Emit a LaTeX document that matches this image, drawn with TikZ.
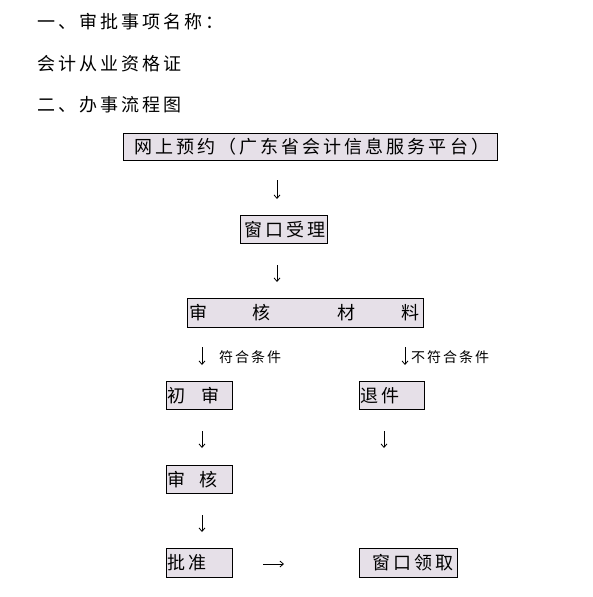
\documentclass[tikz,border=0pt]{standalone}
\usepackage{fontspec}
\newfontfamily\cjk[LetterSpace=17]{Noto Sans CJK SC}
\newfontfamily\cjkplain{Noto Sans CJK SC}
\newfontfamily\cjksmall[LetterSpace=14]{Noto Sans CJK SC}
\usetikzlibrary{arrows.meta}
\definecolor{boxfill}{HTML}{E6E0E8}
\begin{document}
\begin{tikzpicture}[x=1pt,y=-1pt,
  every node/.style={inner sep=0pt, font=\cjk\fontsize{18}{18}\selectfont},
  txt/.style={anchor=west},
  plain/.style={font=\cjkplain\fontsize{18}{18}\selectfont},
  small/.style={anchor=west, font=\cjksmall\fontsize{14}{14}\selectfont},
  bx/.style={draw=black, line width=1.2pt, fill=boxfill, anchor=north west},
  arr/.style={line width=0.8pt, -{Straight Barb[length=3.5pt,width=6pt]}}]
\useasboundingbox (0,0) rectangle (593,597);

\node[txt] (t1) at (37,22) {一、审批事项名称：};
\node[txt] (t2) at (37,64) {会计从业资格证};
\node[txt] (t3) at (37,105) {二、办事流程图};

\node[bx, minimum width=374pt, minimum height=27pt] (b1) at (123,133) {\hspace*{2pt}网上预约（广东省会计信息服务平台）};
\node[bx, minimum width=87pt, minimum height=28pt] (b2) at (240,215) {\hspace*{2pt}窗口受理};
\node[bx, plain, minimum height=29pt] (b3) at (187,298)
  {\makebox[236pt][l]{\hspace*{2pt}审\hspace*{45pt}核\hspace*{67pt}材\hspace*{46pt}料}};
\node[bx, plain, minimum height=28pt] (b4) at (166,381)
  {\makebox[66pt][l]{\hspace*{1pt}初\hspace*{16pt}审}};
\node[bx, minimum height=28pt] (b5) at (359,381)
  {\makebox[65pt][l]{\hspace*{1pt}退件}};
\node[bx, plain, minimum height=28pt] (b6) at (166,465)
  {\makebox[66pt][l]{\hspace*{1pt}审\hspace*{14pt}核}};
\node[bx, minimum height=29pt] (b7) at (166,548)
  {\makebox[66pt][l]{\hspace*{1pt}批准}};
\node[bx, minimum height=29pt] (b8) at (359,548)
  {\makebox[98pt][l]{\hspace*{13pt}窗口领取}};

\node[small] (l1) at (219,357) {符合条件};
\node[small] (l2) at (411,357) {不符合条件};

\coordinate (a1s) at (277,180); \coordinate (a1e) at (277,199);
\coordinate (a2s) at (277,265); \coordinate (a2e) at (277,282);
\coordinate (a3s) at (202,347); \coordinate (a3e) at (202,365);
\coordinate (a4s) at (405,347); \coordinate (a4e) at (405,365);
\coordinate (a5s) at (202,431); \coordinate (a5e) at (202,448);
\coordinate (a6s) at (384,431); \coordinate (a6e) at (384,448);
\coordinate (a7s) at (202,515); \coordinate (a7e) at (202,532);
\coordinate (a8s) at (263,564); \coordinate (a8e) at (284,564);
\foreach \i in {1,...,8} \draw[arr] (a\i s) -- (a\i e);
\end{tikzpicture}
\end{document}
